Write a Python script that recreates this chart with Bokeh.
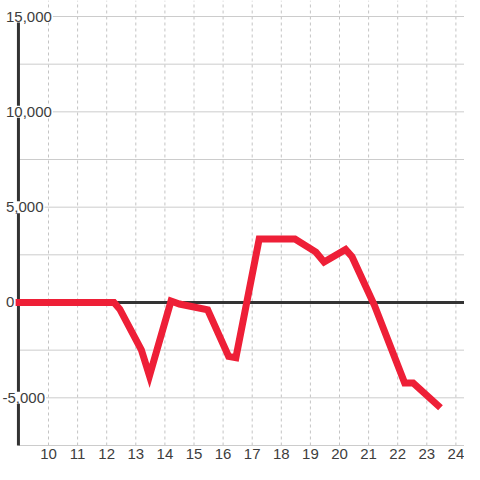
from bokeh.plotting import figure
from bokeh.models import Range1d
from bokeh.core.properties import value
from bokeh.embed import file_html
from bokeh.resources import INLINE

# ---- data ----
times = [8.87, 12.25, 12.45, 13.19, 13.47, 14.21, 14.5, 15.47, 16.19, 16.44,
         17.24, 18.47, 19.19, 19.47, 20.21, 20.43, 21.2, 22.24, 22.53, 23.47]
values = [0, 0, -350, -2480, -3850, 80, -80, -380, -2830, -2900,
          3330, 3330, 2640, 2120, 2780, 2400, -150, -4220, -4220, -5520]

x_ticks = list(range(10, 25))
x_labels = [str(t) for t in x_ticks]
y_grid = [-7500, -5000, -2500, 0, 2500, 5000, 7500, 10000, 12500, 15000]
y_label_values = [-5000, 0, 5000, 10000, 15000]
y_labels = ["-5,000", "0", "5,000", "10,000", "15,000"]

# ---- layout (figure pixels) ----
W = H = 464
PX_X = 29.1               # pixels per x unit
X10_PX = 48.0             # pixel position of x = 10
PX_Y = 95.33 / 5000.0     # pixels per y unit
Y_TOP_PX = 16.0           # pixel position of y = 15000
x_start = 10 - X10_PX / PX_X
x_end = x_start + W / PX_X
y_end = y_grid[-1] + Y_TOP_PX / PX_Y
y_start = y_end - H / PX_Y
axis_x = 8.967

FONT = "Liberation Sans"
TXT = "#3d3d3d"
DARK = "#333333"
RED = "#ee1f37"

p = figure(width=W, height=H, output_backend="svg", toolbar_location=None,
           x_range=Range1d(x_start, x_end), y_range=Range1d(y_start, y_end),
           x_axis_location=None, y_axis_location=None,
           min_border_left=0, min_border_right=0,
           min_border_top=0, min_border_bottom=0)
p.outline_line_color = None
p.background_fill_color = "white"
p.border_fill_color = "white"
p.grid.visible = False

# vertical dotted grid lines
p.segment(x0=x_ticks, y0=[y_grid[0]] * len(x_ticks),
          x1=x_ticks, y1=[y_end] * len(x_ticks),
          line_color="#c4c4c4", line_width=1, line_dash="3 3")
# horizontal grid lines
p.segment(x0=[axis_x] * len(y_grid), y0=y_grid,
          x1=[x_end] * len(y_grid), y1=y_grid,
          line_color="#cccccc", line_width=1)

# vertical axis line and zero line
p.segment(x0=[axis_x], y0=[y_grid[0]], x1=[axis_x], y1=[y_grid[-1]],
          line_color=DARK, line_width=3)
p.segment(x0=[axis_x], y0=[0], x1=[x_end], y1=[0],
          line_color=DARK, line_width=3)

# y tick labels (drawn over the plot, white backing)
y_offsets = [1 if s.startswith("-") else 4.5 for s in y_labels]
p.text(x=[x_start] * len(y_labels), y=y_label_values, text=y_labels,
       x_offset=y_offsets, text_align="left", text_baseline="middle",
       text_font=value(FONT), text_font_size="15px", text_color=TXT,
       background_fill_color="white", padding=1)

# x tick labels
p.text(x=x_ticks, y=[y_grid[0]] * len(x_ticks), text=x_labels,
       y_offset=14, text_align="center", text_baseline="bottom",
       text_font=value(FONT), text_font_size="15px", text_color=TXT)

# series
p.line(times, values, line_color=RED, line_width=7,
       line_join="miter", line_cap="butt")

open("out.html", "w").write(file_html(p, INLINE))
